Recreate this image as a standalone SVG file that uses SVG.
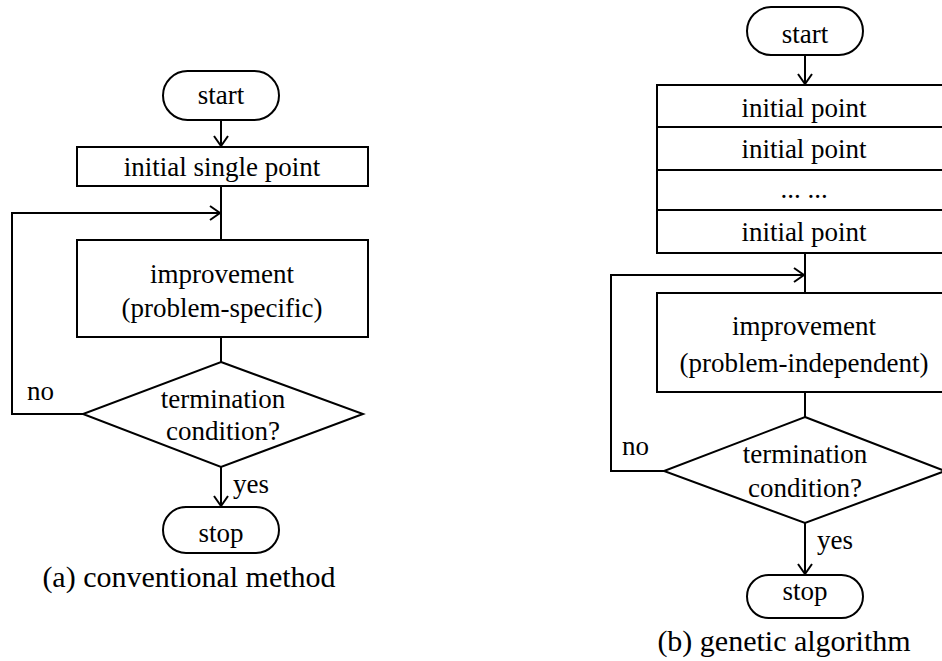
<svg xmlns="http://www.w3.org/2000/svg" width="942" height="661" viewBox="0 0 942 661" font-family="'Liberation Serif', 'Times New Roman', 'DejaVu Serif', serif">
<style>
.n{fill:#fff;stroke:#000;stroke-width:2}
.c{fill:none;stroke:#000;stroke-width:2}
text{font-family:'Liberation Serif','Times New Roman','DejaVu Serif',serif;font-size:27px;fill:#000}
.m{text-anchor:middle}
.cap{font-size:30px;text-anchor:middle}
</style>
<defs>
<marker id="ah" viewBox="0 0 12 16" refX="11" refY="8" markerWidth="12" markerHeight="16" markerUnits="userSpaceOnUse" orient="auto">
<path d="M1,1 L11,8 L1,15" fill="none" stroke="#000" stroke-width="2"/>
</marker>
</defs>
<rect width="942" height="661" fill="#fff"/>
<g id="connectors">
<line class="c" x1="221" y1="120" x2="221" y2="146" marker-end="url(#ah)"/>
<line class="c" x1="221" y1="186" x2="221" y2="240"/>
<polyline class="c" points="83,414 12,414 12,213 220,213" marker-end="url(#ah)"/>
<line class="c" x1="221" y1="337" x2="221" y2="362"/>
<line class="c" x1="221" y1="467" x2="221" y2="506" marker-end="url(#ah)"/>
<line class="c" x1="805" y1="55" x2="805" y2="84" marker-end="url(#ah)"/>
<line class="c" x1="805" y1="253" x2="805" y2="293"/>
<polyline class="c" points="664,471 611,471 611,275 804,275" marker-end="url(#ah)"/>
<line class="c" x1="805" y1="392" x2="805" y2="417"/>
<line class="c" x1="805" y1="523" x2="805" y2="574" marker-end="url(#ah)"/>
</g>
<g id="a-start"><rect class="n" x="163" y="71" width="116" height="49" rx="24.5"/><text class="m" x="221" y="104">start</text></g>
<g id="a-init"><rect class="n" x="77" y="147" width="291" height="39"/><text class="m" x="222" y="176">initial single point</text></g>
<g id="a-improve"><rect class="n" x="77" y="240" width="291" height="97"/><text class="m" x="222" y="283">improvement</text><text class="m" x="222" y="317">(problem-specific)</text></g>
<g id="a-term"><polygon class="n" points="221,362 363,414 221,467 83,414"/><text class="m" x="223" y="408">termination</text><text class="m" x="223" y="440">condition?</text></g>
<g id="a-stop"><rect class="n" x="163" y="507" width="116" height="46" rx="23"/><text class="m" x="221" y="542">stop</text></g>
<g id="a-labels"><text x="27" y="400">no</text><text x="233" y="493">yes</text></g>
<text class="cap" x="189" y="587">(a) conventional method</text>
<g id="b-start"><rect class="n" x="747" y="7" width="116" height="48" rx="24"/><text class="m" x="805" y="43">start</text></g>
<g id="b-init"><rect class="n" x="657" y="85" width="300" height="168"/>
<line class="c" x1="657" y1="127" x2="942" y2="127"/><line class="c" x1="657" y1="170" x2="942" y2="170"/><line class="c" x1="657" y1="210" x2="942" y2="210"/>
<text class="m" x="804" y="117">initial point</text><text class="m" x="804" y="158">initial point</text><text class="m" x="804" y="198">... ...</text><text class="m" x="804" y="241">initial point</text></g>
<g id="b-improve"><rect class="n" x="657" y="293" width="300" height="99"/><text class="m" x="804" y="335">improvement</text><text class="m" x="804" y="372">(problem-independent)</text></g>
<g id="b-term"><polygon class="n" points="805,417 945,471 805,523 664,471"/><text class="m" x="805" y="463">termination</text><text class="m" x="805" y="497">condition?</text></g>
<g id="b-stop"><rect class="n" x="747" y="575" width="116" height="43" rx="21.5"/><text class="m" x="805" y="600">stop</text></g>
<g id="b-labels"><text x="622" y="455">no</text><text x="817" y="549">yes</text></g>
<text class="cap" x="784" y="651">(b) genetic algorithm</text>
</svg>
